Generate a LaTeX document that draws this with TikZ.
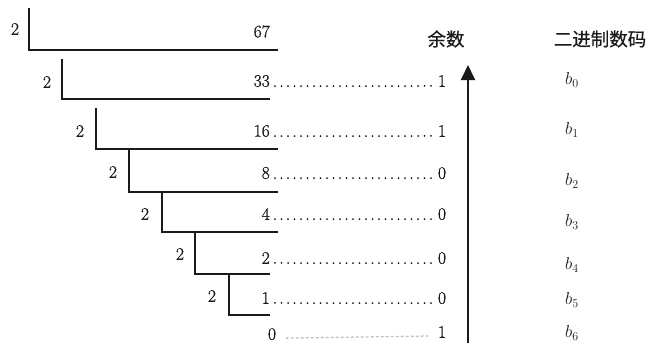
\documentclass[tikz,border=0pt]{standalone}
\usepackage{fontspec}
\newfontfamily\cjk[FakeBold=0.6]{Noto Sans CJK SC}
\newfontfamily\heavy[FakeBold=0.9]{Latin Modern Roman}
\usetikzlibrary{arrows.meta,calc}
\definecolor{ink}{HTML}{1A1A1A}
\tikzset{
  txt/.style={inner sep=0pt, text=ink, font=\heavy\fontsize{17.5}{20}\selectfont},
  btxt/.style={inner sep=0pt, text=ink, font=\fontsize{17.5}{20}\selectfont},
  head/.style={inner sep=0pt, text=ink, font=\cjk\fontsize{18.5}{21}\selectfont},
  bracket/.style={draw=ink, line width=1.4pt},
  dots/.style={draw=ink, line width=2pt, line cap=round, dash pattern=on 0pt off 6.5pt},
  faintdots/.style={draw=black!25, line width=1.3pt, line cap=round, dash pattern=on 2pt off 3pt},
  arr/.style={draw=ink, line width=1.9pt, -{Triangle[width=14pt,length=15pt]}}
}
\begin{document}
\begin{tikzpicture}[x=1pt,y=-1pt]
\useasboundingbox (0,0) rectangle (651,343);
% first division row
\node[txt] (d1) at (15,29) {2};
\coordinate (t1) at (29,8);
\coordinate (c1) at (29,50);
\coordinate (r1) at (278,50);
\draw[bracket] (t1) -- (c1) -- (r1);
\node[txt, anchor=east] (n1) at (270,31.5) {67};
% rows 2..7
\foreach \i/\dx/\dy/\vx/\vt/\hy/\hr/\num/\ny/\rem in {
  2/47/82/62/59/99/270/33/81/1,
  3/80/131/96/108/149/278/16/131/1,
  4/113/172/129/149/192/278/8/173/0,
  5/145/214/162/192/232/278/4/214/0,
  6/180/254/195/232/274/270/2/258/0,
  7/212/296/229/274/315/270/1/298/0}{
  \node[txt] (d\i) at (\dx,\dy) {2};
  \coordinate (t\i) at (\vx,\vt);
  \coordinate (c\i) at (\vx,\hy);
  \coordinate (r\i) at (\hr,\hy);
  \draw[bracket] (t\i) -- (c\i) -- (r\i);
  \node[txt, anchor=east] (n\i) at (270,\ny) {\num};
  \node[txt] (m\i) at (442,\ny) {\rem};
  \draw[dots] ($(n\i.south east)+(5,-1)$) -- ($(m\i.south west)+(-3,-1)$);
}
% last row
\node[txt] (n8) at (272,334) {0};
\node[txt] (m8) at (442,332) {1};
\draw[faintdots] ($(n8.south east)+(10,-2)$) -- ($(m8.south west)+(-8,-2)$);
% arrow
\coordinate (abot) at (468,343);
\coordinate (atop) at (468,65);
\draw[arr] (abot) -- (atop);
% headings
\node[head] (h1) at (446,39) {余数};
\node[head] (h2) at (600,39) {二进制数码};
% binary digits
\foreach \k/\by in {0/80,1/130,2/181,3/222,4/265,5/300,6/333}{
  \node[btxt] (b\k) at (572,\by) {$b_{\k}$};
}
\end{tikzpicture}
\end{document}
